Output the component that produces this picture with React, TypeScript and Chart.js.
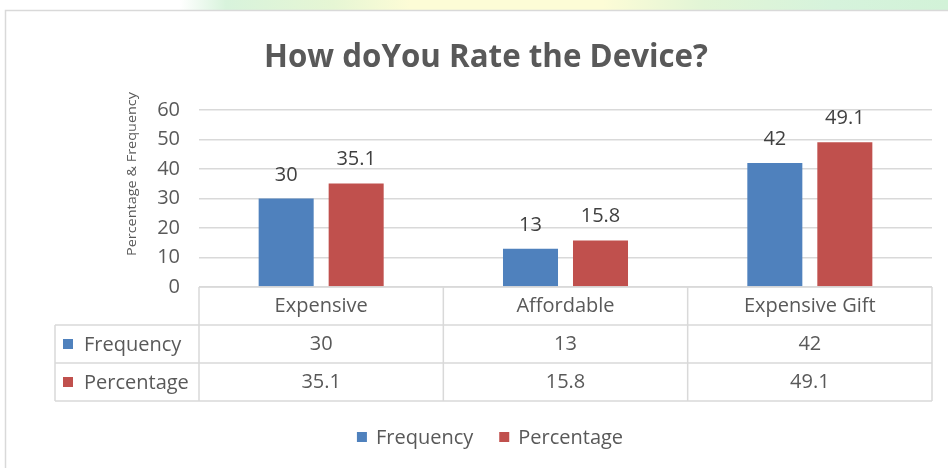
import React, { useEffect, useRef } from "react";
import { Chart, registerables } from "chart.js";

Chart.register(...registerables);

const chartTitle = "How doYou Rate the Device?";
const yAxisTitle = "Percentage & Frequency";
const categories = ["Expensive", "Affordable", "Expensive Gift"];
const seriesNames = ["Frequency", "Percentage"];
const frequency = [30, 13, 42];
const percentage = [35.1, 15.8, 49.1];
const seriesColors = ["#4F81BD", "#C0504D"];
const yMin = 0;
const yMax = 60;
const yStep = 10;

const FONT = '"Open Sans", "Noto Sans", sans-serif';
const TEXT = "#595959";
const LINE = "#d9d9d9";

function fitText(ctx: CanvasRenderingContext2D, text: string, x: number, y: number, width: number) {
  const w = ctx.measureText(text).width;
  const s = width / w;
  ctx.save();
  ctx.translate(x, y);
  ctx.scale(s, 1);
  ctx.textAlign = "center";
  ctx.fillText(text, 0, 0);
  ctx.restore();
}

const extrasPlugin = {
  id: "extras",
  beforeDraw(chart: any) {
    const ctx = chart.ctx as CanvasRenderingContext2D;
    ctx.save();
    ctx.fillStyle = "#ffffff";
    ctx.fillRect(0, 0, chart.width, chart.height);
    // faint background watermark strip above the chart frame
    const g = ctx.createLinearGradient(180, 0, 948, 0);
    g.addColorStop(0, "rgba(255,255,255,1)");
    g.addColorStop(0.06, "#d8f3dc");
    g.addColorStop(0.2, "#e6f6d4");
    g.addColorStop(0.3, "#fdfcd6");
    g.addColorStop(0.55, "#fdfcd6");
    g.addColorStop(0.68, "#e2f5d6");
    g.addColorStop(0.85, "#d6f3dc");
    g.addColorStop(1, "#d2f2d8");
    ctx.fillStyle = g;
    ctx.fillRect(180, 0, chart.width - 180, 10);
    ctx.strokeStyle = LINE;
    ctx.lineWidth = 1.5;
    ctx.strokeRect(5.5, 10.5, chart.width + 20, chart.height + 20);
    ctx.restore();
  },
  afterDatasetsDraw(chart: any) {
    const ctx = chart.ctx as CanvasRenderingContext2D;
    ctx.save();
    ctx.font = `20px ${FONT}`;
    ctx.fillStyle = "#404040";
    ctx.textAlign = "center";
    ctx.textBaseline = "alphabetic";
    chart.data.datasets.forEach((ds: any, di: number) => {
      const meta = chart.getDatasetMeta(di);
      meta.data.forEach((bar: any, i: number) => {
        ctx.fillText(String(ds.data[i]), bar.x, bar.y - 18);
      });
    });
    ctx.restore();
  },
  afterDraw(chart: any) {
    const ctx = chart.ctx as CanvasRenderingContext2D;
    const area = chart.chartArea;
    const n = categories.length;
    const cw = (area.right - area.left) / n;
    const rowH = 38;
    const top = area.bottom;
    const tableLeft = 55;
    ctx.save();
    // title
    ctx.fillStyle = TEXT;
    ctx.font = `bold 32px ${FONT}`;
    ctx.textBaseline = "alphabetic";
    fitText(ctx, chartTitle, 486, 67, 444);
    // y axis title
    ctx.save();
    ctx.translate(133, 174);
    ctx.rotate(-Math.PI / 2);
    ctx.font = `12px ${FONT}`;
    ctx.fillStyle = TEXT;
    ctx.textBaseline = "middle";
    fitText(ctx, yAxisTitle, 0, 0, 164);
    ctx.restore();
    // table lines
    ctx.strokeStyle = LINE;
    ctx.lineWidth = 1.5;
    ctx.beginPath();
    ctx.moveTo(area.left, top);
    ctx.lineTo(area.right, top);
    for (let r = 1; r <= 3; r++) {
      ctx.moveTo(tableLeft, top + r * rowH);
      ctx.lineTo(area.right, top + r * rowH);
    }
    ctx.moveTo(tableLeft, top + rowH);
    ctx.lineTo(tableLeft, top + 3 * rowH);
    for (let c = 0; c <= n; c++) {
      const x = area.left + c * cw;
      ctx.moveTo(x, top);
      ctx.lineTo(x, top + 3 * rowH);
    }
    ctx.stroke();
    // table text
    ctx.font = `20px ${FONT}`;
    ctx.fillStyle = TEXT;
    ctx.textBaseline = "middle";
    ctx.textAlign = "center";
    const xs = chart.scales.x;
    categories.forEach((c, i) => {
      const cx = xs.getPixelForValue(i);
      ctx.fillText(c, cx, top + rowH / 2);
      chart.data.datasets.forEach((ds: any, di: number) => {
        ctx.fillText(String(ds.data[i]), cx, top + rowH * (di + 1.5));
      });
    });
    ctx.textAlign = "left";
    chart.data.datasets.forEach((ds: any, di: number) => {
      const cy = top + rowH * (di + 1.5);
      ctx.fillStyle = ds.backgroundColor;
      ctx.fillRect(63, cy - 5, 10, 10);
      ctx.fillStyle = TEXT;
      ctx.fillText(ds.label, 84, cy + 1);
    });
    // legend
    const ly = 437;
    const gap = 26;
    const widths = chart.data.datasets.map((ds: any) => 19 + ctx.measureText(ds.label).width);
    const total = widths.reduce((a: number, b: number) => a + b, 0) + gap;
    let lx = 490 - total / 2;
    chart.data.datasets.forEach((ds: any, di: number) => {
      ctx.fillStyle = ds.backgroundColor;
      ctx.fillRect(lx, ly - 5, 10, 10);
      ctx.fillStyle = TEXT;
      ctx.fillText(ds.label, lx + 19, ly + 1);
      lx += widths[di] + gap;
    });
    ctx.restore();
  },
};

export default function App() {
  const ref = useRef<HTMLCanvasElement>(null);
  useEffect(() => {
    if (!ref.current) return;
    const chart = new Chart(ref.current, {
      type: "bar",
      data: {
        labels: categories,
        datasets: [
          { label: seriesNames[0], data: frequency, backgroundColor: seriesColors[0] },
          { label: seriesNames[1], data: percentage, backgroundColor: seriesColors[1] },
        ],
      },
      options: {
        responsive: false,
        animation: false,
        layout: { padding: { top: 110, bottom: 181, right: 16, left: 0 } },
        datasets: { bar: { categoryPercentage: 0.573, barPercentage: 0.786 } },
        plugins: { legend: { display: false }, title: { display: false }, tooltip: { enabled: false } },
        scales: {
          x: { display: false },
          y: {
            min: yMin,
            max: yMax,
            ticks: { stepSize: yStep, color: TEXT, font: { family: FONT, size: 20 }, padding: 19 },
            grid: { color: LINE, lineWidth: 1.5, drawTicks: false },
            border: { display: false },
            afterFit: (s: any) => {
              s.width = 199;
            },
          },
        },
      },
      plugins: [extrasPlugin],
    } as any);
    return () => chart.destroy();
  }, []);
  return (
    <div style={{ position: "absolute", left: 0, top: 0, width: 948, height: 468 }}>
      <canvas ref={ref} width={948} height={468} style={{ display: "block" }} />
    </div>
  );
}
